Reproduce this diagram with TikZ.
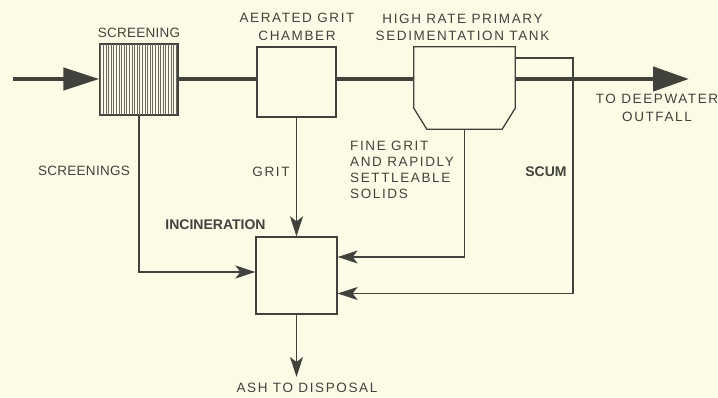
\documentclass[tikz,border=0pt]{standalone}
\usepackage{fontspec}
\setmainfont{Liberation Sans}
\newfontfamily\tagfont[LetterSpace=12]{Liberation Sans}
\newfontfamily\tighttagfont[LetterSpace=2]{Liberation Sans}
\usetikzlibrary{arrows.meta,positioning,calc}
\definecolor{paper}{RGB}{252,252,230}
\definecolor{ink}{RGB}{66,66,60}

\tikzset{
  unit/.style={draw=ink, line width=1.3pt, fill=paper, inner sep=0pt},
  tag/.style={text=ink, inner sep=0pt, align=center, font=\tagfont\fontsize{13.5}{17.5}\selectfont},
  tighttag/.style={tag, font=\tighttagfont\fontsize{13.5}{17.5}\selectfont},
  boldtag/.style={tag, font=\bfseries\fontsize{14}{17}\selectfont},
  flow/.style={draw=ink, line width=4.5pt},
  feed/.style={draw=ink, line width=1.3pt, -{Stealth[length=20pt,width=13pt,inset=5pt]}},
}

\begin{document}
\begin{tikzpicture}[x=1pt,y=-1pt]
\fill[paper] (0,0) rectangle (718,398);
\useasboundingbox (0,0) rectangle (718,398);

% process units
\node[unit, minimum width=78pt, minimum height=71pt] (screen) at (139,79.5) {};
\foreach \k in {0,...,29}
  \draw[ink!80, line width=1pt] ($(screen.north west)+(1.6+\k*2.6,0)$) -- ($(screen.south west)+(1.6+\k*2.6,0)$);
\draw[ink, line width=1.3pt] (screen.north west) rectangle (screen.south east);
\node[unit, minimum width=79pt, minimum height=70pt] (grit) at (296.5,82) {};
\node[minimum width=101pt, minimum height=82pt, inner sep=0pt] (tank) at (464.5,88) {};
\draw[ink, line width=1.3pt, fill=paper] (tank.north west) -- ($(tank.south west)+(0,-21)$)
  -- ($(tank.south west)+(13,0)$) -- ($(tank.south east)+(-13,0)$)
  -- ($(tank.south east)+(0,-21)$) -- (tank.north east) -- cycle;
\node[unit, minimum width=81pt, minimum height=77pt] (incin) at (296.5,275.5) {};

% end points
\coordinate (inlet) at (13,79);
\coordinate (outlet) at (689,79);
\coordinate (scumtop) at (573,58);
\coordinate (ash) at (296.5,377);

% residues to incineration
\draw[feed] (scumtop -| tank.east) -- (scumtop) |- ($(incin.east)+(0,18)$);
\draw[feed] (tank.south) |- ($(incin.east)+(0,-18.5)$);
\draw[feed] (screen.south) |- ($(incin.west)+(0,-3.5)$);
\draw[feed] (grit.south) -- (incin.north);
\draw[feed] (incin.south) -- (ash);

% main flow
\draw[flow, -{Triangle[length=36pt,width=22pt]}] (inlet) -- (screen.west |- inlet);
\draw[flow] (screen.east |- inlet) -- (grit.west |- inlet);
\draw[flow] (grit.east |- inlet) -- (tank.west |- inlet);
\draw[flow, -{Triangle[length=36pt,width=24pt]}] (tank.east |- inlet) -- (outlet);

% labels
\node[tighttag] (screen-lbl) at (139,33) {SCREENING};
\node[tag] (grit-lbl) at (297,27) {AERATED GRIT\\CHAMBER};
\node[tag] (tank-lbl) at (462.5,27.5) {HIGH RATE PRIMARY\\SEDIMENTATION TANK};
\node[tag] (outlet-lbl) at (657,108) {TO DEEPWATER\\OUTFALL};
\node[tighttag] (screenings-lbl) at (84,171) {SCREENINGS};
\node[tag] (gritout-lbl) at (271,171.5) {GRIT};
\node[tag, align=left, anchor=west, font=\tagfont\fontsize{13.5}{16}\selectfont] (solids-lbl) at (350,169.5) {FINE GRIT\\AND RAPIDLY\\SETTLEABLE\\SOLIDS};
\node[boldtag] (scum-lbl) at (546,172) {SCUM};
\node[boldtag] (incin-lbl) at (215.5,225) {INCINERATION};
\node[tag] (ash-lbl) at (307,388) {ASH TO DISPOSAL};
\end{tikzpicture}
\end{document}
